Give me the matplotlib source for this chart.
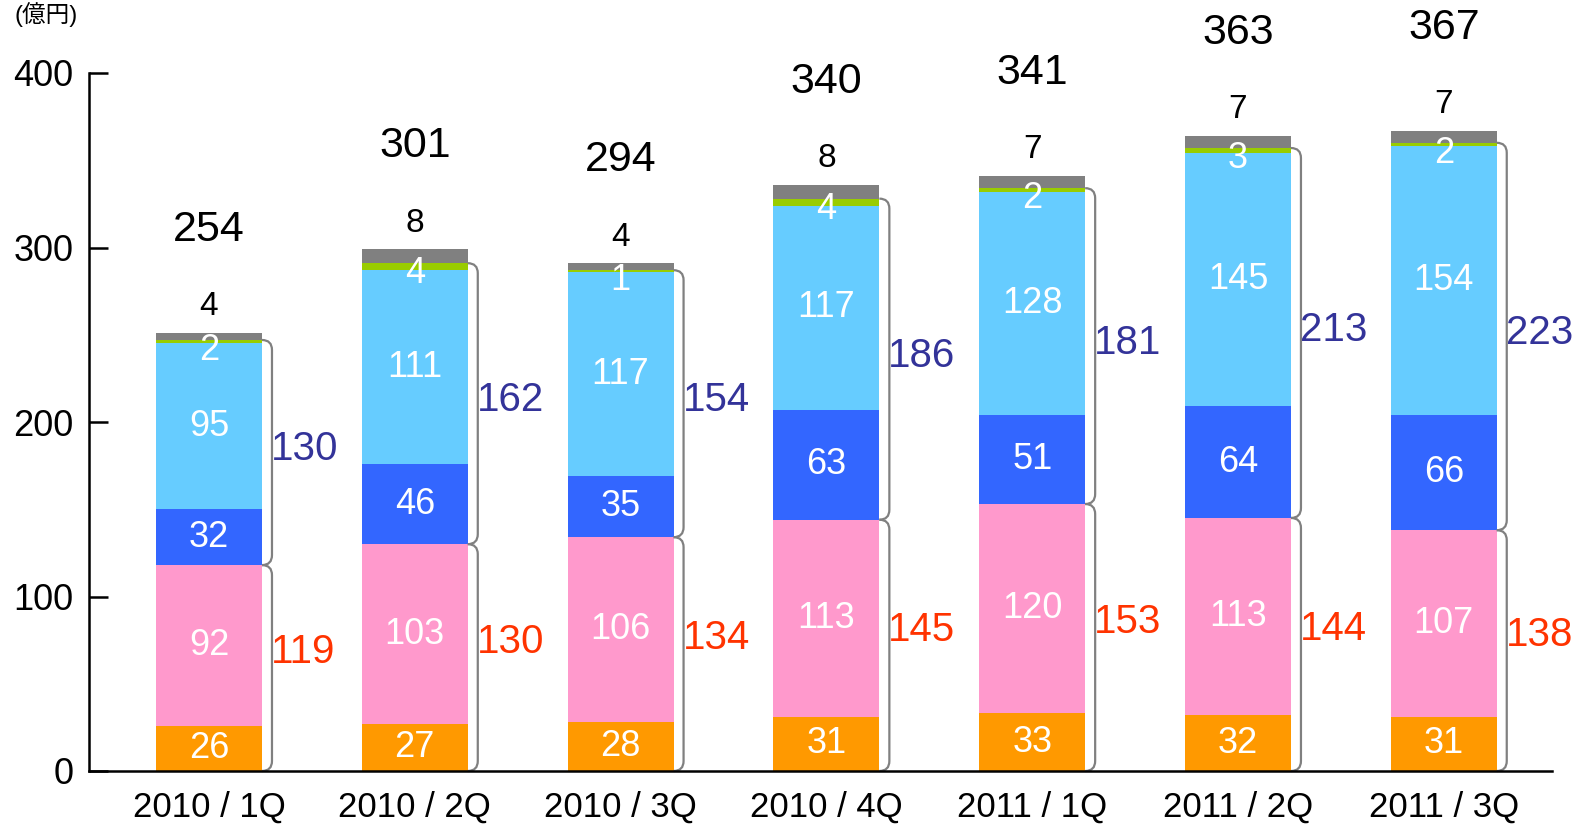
import matplotlib
matplotlib.use("Agg")
import matplotlib.pyplot as plt
from matplotlib.path import Path
from matplotlib.patches import PathPatch
import numpy as np

# ---- data ----
categories = ['2010 / 1Q', '2010 / 2Q', '2010 / 3Q', '2010 / 4Q', '2011 / 1Q', '2011 / 2Q', '2011 / 3Q']
orange = [26, 27, 28, 31, 33, 32, 31]
pink = [92, 103, 106, 113, 120, 113, 107]
blue = [32, 46, 35, 63, 51, 64, 66]
lightblue = [95, 111, 117, 117, 128, 145, 154]
green = [2, 4, 1, 4, 2, 3, 2]
gray = [4, 8, 4, 8, 7, 7, 7]
totals = [254, 301, 294, 340, 341, 363, 367]
lower_sums = [119, 130, 134, 145, 153, 144, 138]
upper_sums = [130, 162, 154, 186, 181, 213, 223]

# ---- style ----
plt.rcParams['font.family'] = ['Liberation Sans', 'Noto Sans CJK JP', 'DejaVu Sans']
C_OR, C_PK, C_BL, C_LB, C_GR, C_GY = '#FF9900', '#FF99CC', '#3366FF', '#66CCFF', '#99CC00', '#808080'
C_RED, C_PUR = '#FF3300', '#333399'

W, H = 1585, 827
L, R, T, B = 89, 1552, 73, 771
fig = plt.figure(figsize=(W / 100, H / 100), dpi=100)
ax = fig.add_axes([L / W, 1 - B / H, (R - L) / W, (B - T) / H])

x = np.arange(len(categories))
xlim = (-0.583, 6.526)
ax.set_xlim(*xlim)
ax.set_ylim(0, 400)
pxx = (R - L) / (xlim[1] - xlim[0])   # pixels per x unit
pxy = (B - T) / 400.0                 # pixels per y unit
bw = 106 / pxx

layers = [orange, pink, blue, lightblue, green, gray]
colors = [C_OR, C_PK, C_BL, C_LB, C_GR, C_GY]
bottom = np.zeros(len(x))
bottoms = []
for vals, c in zip(layers, colors):
    v = np.array(vals, dtype=float)
    ax.bar(x, v, bw, bottom=bottom, color=c, linewidth=0, zorder=2)
    bottoms.append(bottom.copy())
    bottom = bottom + v
tops = bottom

seg_fs = 26
for i in range(len(x)):
    for k, vals in enumerate([orange, pink, blue, lightblue]):
        yc = bottoms[k][i] + vals[i] / 2.0
        ax.text(x[i], yc, str(vals[i]), ha='center', va='center', color='white', fontsize=seg_fs, zorder=4)
    gtop = bottoms[4][i] + green[i]
    ax.text(x[i], gtop - 6, str(green[i]), ha='center', va='center', color='white', fontsize=seg_fs, zorder=4)
    ax.text(x[i], tops[i] + 15, str(gray[i]), ha='center', va='center', color='black', fontsize=24, clip_on=False)
    ax.text(x[i], tops[i] + 59, str(totals[i]), ha='center', va='center', color='black', fontsize=31, clip_on=False)

    xr = x[i] + bw / 2
    d = 10 / pxx
    ry = 10 / pxy

    def bracket(yb, yt):
        verts = [(xr, yt), (xr + d, yt), (xr + d, yt - ry),
                 (xr + d, yb + ry), (xr + d, yb), (xr, yb)]
        codes = [Path.MOVETO, Path.CURVE3, Path.CURVE3, Path.LINETO, Path.CURVE3, Path.CURVE3]
        ax.add_patch(PathPatch(Path(verts, codes), fill=False, edgecolor=C_GY, lw=1.6, zorder=3, clip_on=False))

    pk_top = bottoms[2][i]
    bracket(0, pk_top)
    bracket(pk_top, gtop)
    lx = xr + 9 / pxx
    ax.text(lx, pk_top / 2 + 9, str(lower_sums[i]), ha='left', va='center', color=C_RED, fontsize=29)
    ax.text(lx, (pk_top + gtop) / 2 + 2, str(upper_sums[i]), ha='left', va='center', color=C_PUR, fontsize=29)

for s in ['top', 'right']:
    ax.spines[s].set_visible(False)
ax.spines['left'].set_linewidth(1.8)
ax.spines['bottom'].set_linewidth(1.8)
ax.spines['bottom'].set_zorder(5)
ax.set_yticks([0, 100, 200, 300, 400])
ax.tick_params(axis='y', direction='in', length=14, width=1.8, labelsize=26, pad=11)
ax.set_xticks(x)
ax.set_xticklabels(categories)
ax.tick_params(axis='x', length=0, labelsize=25, pad=14)

fig.text(15 / W, 1 - 2 / H, '(億円)', ha='left', va='top', fontsize=17, color='black')

fig.savefig('out.png', dpi=100)
